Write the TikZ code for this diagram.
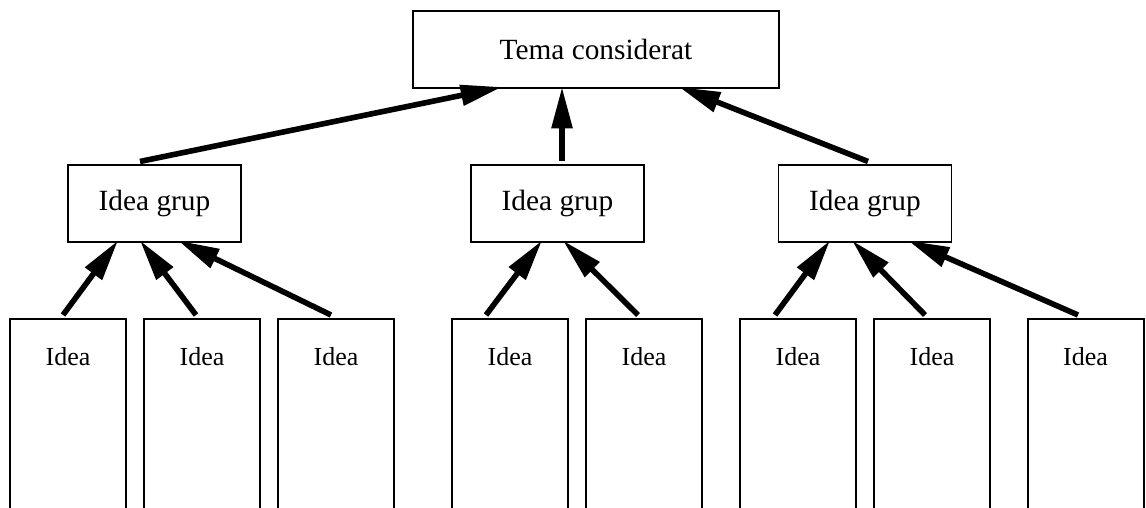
\documentclass[tikz,border=0pt]{standalone}
\usepackage{fontspec}
\setmainfont{Liberation Serif}
\usetikzlibrary{arrows.meta}
\tikzset{
  topbox/.style={draw, line width=1.5pt, minimum width=366*0.75pt, minimum height=77*0.75pt,
    inner sep=0pt, font=\fontsize{22}{26}\selectfont},
  groupbox/.style={draw, line width=0.8pt, minimum width=173*0.75pt, minimum height=77*0.75pt,
    inner sep=0pt, font=\fontsize{22}{26}\selectfont},
  ideabox/.style={draw, line width=1.5pt, minimum width=116*0.75pt, minimum height=260*0.75pt,
    inner sep=0pt, anchor=north},
  ideatext/.style={inner sep=0pt, font=\fontsize{19.5}{23}\selectfont},
  link/.style={line width=4.2pt, -{Triangle[length=31pt, width=15pt]}}
}
\begin{document}
\begin{tikzpicture}[x=0.75pt, y=-0.75pt]
\clip (0,0) rectangle (1146,507);
\fill[white] (0,0) rectangle (1146,507);

% topic
\node[topbox] (tema) at (596,49.5) {Tema considerat};

% groups
\node[groupbox] (g1) at (154.5,203.5) {Idea grup};
\node[groupbox] (g2) at (557.5,203.5) {Idea grup};
\node[groupbox] (g3) at (865,203.5) {Idea grup};

% ideas (columns run off the lower edge)
\foreach \n/\x in {1/68, 2/202, 3/336, 4/510, 5/644, 6/798, 7/932, 8/1085.5} {
  \node[ideabox] (b\n) at (\x,318) {};
  \node[ideatext] (t\n) at (\x,357) {Idea};
}

% groups to topic
\draw[link] ([shift={(-14.5,-3)}]g1.north) -- ([shift={(-94,-2)}]tema.south);
\draw[link] ([shift={(4.5,-3)}]g2.north) -- ([shift={(-34,-2)}]tema.south);
\draw[link] ([shift={(3,-3)}]g3.north) -- ([shift={(83,-2)}]tema.south);

% ideas to groups
\draw[link] ([shift={(-5,-3)}]b1.north) -- ([shift={(-36.5,-2)}]g1.south);
\draw[link] ([shift={(-6,-3)}]b2.north) -- ([shift={(-14.5,-2)}]g1.south);
\draw[link] ([shift={(-5,-3)}]b3.north) -- ([shift={(23.5,-2)}]g1.south);
\draw[link] ([shift={(-24,-3)}]b4.north) -- ([shift={(-15.5,-2)}]g2.south);
\draw[link] ([shift={(-6,-3)}]b5.north) -- ([shift={(5.5,-2)}]g2.south);
\draw[link] ([shift={(-23,-3)}]b6.north) -- ([shift={(-35,-2)}]g3.south);
\draw[link] ([shift={(-7,-3)}]b7.north) -- ([shift={(-13,-2)}]g3.south);
\draw[link] ([shift={(-7.5,-3)}]b8.north) -- ([shift={(43,-2)}]g3.south);
\end{tikzpicture}
\end{document}
